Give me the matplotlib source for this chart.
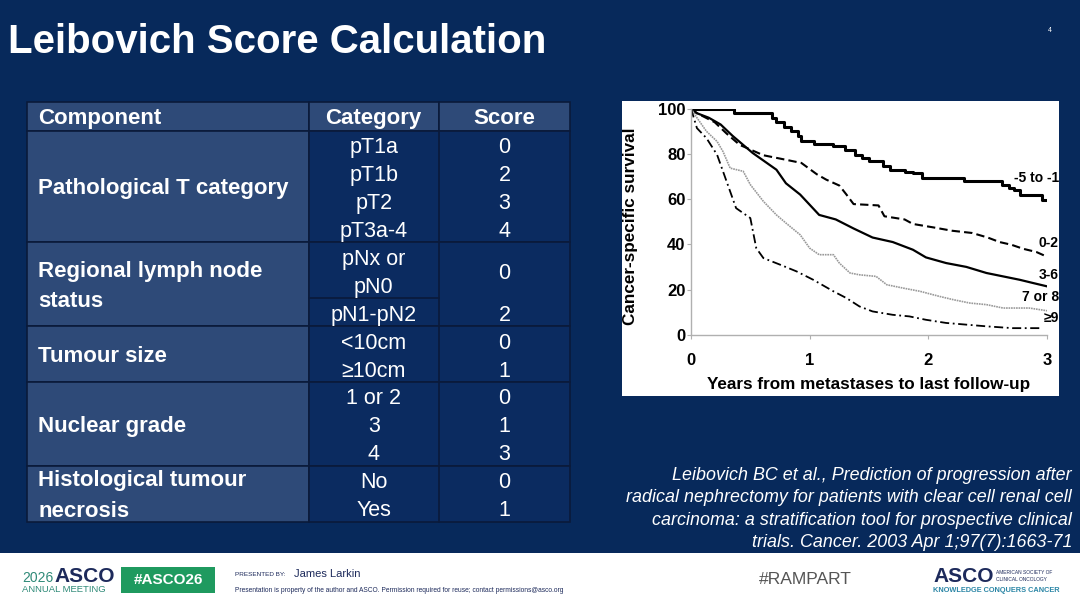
import matplotlib
matplotlib.use("Agg")
import matplotlib.pyplot as plt
from matplotlib.patches import Rectangle

plt.rcParams["font.family"] = ["Liberation Sans", "DejaVu Sans"]

# -----------------------------
# DATA
# -----------------------------
title = "Leibovich Score Calculation"
header = ["Component", "Category", "Score"]
components = ["Pathological T category", "Regional lymph node\nstatus",
              "Tumour size", "Nuclear grade", "Histological tumour\nnecrosis"]
categories = [["pT1a", "pT1b", "pT2", "pT3a-4"],
              ["pNx or\npN0", "pN1-pN2"],
              ["<10cm", "\u226510cm"],
              ["1 or 2", "3", "4"],
              ["No", "Yes"]]
scores = [[0, 2, 3, 4], [0, 2], [0, 1], [0, 1, 3], [0, 1]]

# Kaplan-Meier curves (years, % survival)
t_m5 = [0, 0.36, 0.68, 0.72, 0.78, 0.84, 0.90, 0.93, 1.04, 1.20, 1.30, 1.38, 1.44,
        1.50, 1.62, 1.68, 1.80, 1.87, 1.95, 2.30, 2.62, 2.68, 2.72, 2.77, 2.96, 3.0]
s_m5 = [100, 98, 96, 94, 92, 90, 88, 85.5, 84.4, 83.3, 81.9, 79.6, 78, 76.7, 74.5,
        73, 72, 71.5, 69.3, 67.8, 66.3, 65, 64, 62, 59.5, 59.5]
t_02 = [0, 0.05, 0.2, 0.3, 0.41, 0.61, 0.80, 0.93, 1.06, 1.14, 1.25, 1.31, 1.37,
        1.58, 1.63, 1.80, 1.87, 2.04, 2.20, 2.37, 2.50, 2.60, 2.70, 2.80, 2.91, 3.0]
s_02 = [100, 98, 94, 89, 84, 79.4, 77.4, 76, 71, 68.6, 66, 62, 57.8, 57.2, 52.4,
        51, 49, 47.5, 46, 45, 43, 41, 39.8, 38, 36.6, 34.5]
t_36 = [0, 0.05, 0.15, 0.25, 0.35, 0.52, 0.72, 0.80, 0.92, 1.0, 1.08, 1.22, 1.37,
        1.53, 1.70, 1.87, 1.98, 2.15, 2.32, 2.49, 2.63, 2.77, 2.88, 3.0]
s_36 = [100, 98, 96, 93, 88, 80.4, 73, 67, 62, 57.5, 53, 51, 47, 43, 41, 37.6,
        34.2, 31.7, 30, 27.3, 25.8, 24.3, 22.9, 21.4]
t_78 = [0, 0.05, 0.13, 0.22, 0.27, 0.33, 0.44, 0.50, 0.61, 0.72, 0.80, 0.92, 1.0,
        1.08, 1.20, 1.25, 1.34, 1.42, 1.56, 1.65, 1.79, 1.93, 2.09, 2.21, 2.35,
        2.49, 2.63, 2.85, 3.0]
s_78 = [100, 96, 90, 85.5, 81, 73.7, 72.3, 66.4, 59, 53, 49.4, 44.2, 38.3, 35.4,
        35.4, 31.7, 27.3, 26.5, 25.8, 22.1, 20.6, 19.2, 17, 15.5, 14, 13.3, 11.8,
        11.8, 10.6]
t_9 = [0, 0.05, 0.13, 0.22, 0.30, 0.38, 0.50, 0.55, 0.61, 0.75, 0.89, 1.03, 1.20,
       1.31, 1.42, 1.53, 1.70, 1.84, 1.98, 2.15, 2.49, 2.71, 2.94]
s_9 = [100, 91.4, 87, 79.6, 67.8, 56, 51.6, 38.3, 33.9, 31, 28, 24.3, 19.2, 16.2,
       12.5, 10.3, 8.8, 8.1, 6.6, 5.2, 3.7, 2.9, 2.9]
curve_labels = ["-5 to -1", "0-2", "3-6", "7 or 8", "\u22659"]
label_y = [69.3, 40.6, 26.4, 16.7, 7.4]

citation = ("Leibovich BC et al., Prediction of progression after\n"
            "radical nephrectomy for patients with clear cell renal cell\n"
            "carcinoma: a stratification tool for prospective clinical\n"
            "trials. Cancer. 2003 Apr 1;97(7):1663-71")

# -----------------------------
# COLOURS
# -----------------------------
BG = "#07295b"
LIGHT = "#2e4a78"
DARK = "#0b2b60"
GRID = "#0a1a3a"
NAVY = "#1d2a5b"

fig = plt.figure(figsize=(10.8, 6.08), dpi=100)
fig.patch.set_facecolor(BG)

# full-figure axes in pixel coordinates
bg = fig.add_axes([0, 0, 1, 1])
bg.set_xlim(0, 1080)
bg.set_ylim(608, 0)
bg.axis("off")

bg.text(8, 42, title, color="white", fontsize=29, fontweight="bold", va="center")
bg.text(1048, 30, "4", color="white", fontsize=5, va="center")

# -----------------------------
# TABLE
# -----------------------------
col_x = [27, 308.5, 439, 570]
head_top, head_bot = 102, 130.5
table_bot = 521.7
n_units = sum(c.count("\n") + 1 for cats in categories for c in cats)
unit = (table_bot - head_bot) / n_units

# header
for i, h in enumerate(header):
    bg.add_patch(Rectangle((col_x[i], head_top), col_x[i + 1] - col_x[i],
                           head_bot - head_top, facecolor=LIGHT, edgecolor=GRID, lw=1.2))
    hx = col_x[0] + 11 if i == 0 else (col_x[i] + col_x[i + 1]) / 2
    bg.text(hx, (head_top + head_bot) / 2 + 2.5, h, color="white", fontsize=16,
            fontweight="bold", va="center", ha="left" if i == 0 else "center")

y = head_bot
for comp, cats, scs in zip(components, categories, scores):
    nb = sum(c.count("\n") + 1 for c in cats)
    y0, y1 = y, y + nb * unit
    bg.add_patch(Rectangle((col_x[0], y0), col_x[1] - col_x[0], y1 - y0,
                           facecolor=LIGHT, edgecolor=GRID, lw=1.2))
    bg.add_patch(Rectangle((col_x[1], y0), col_x[3] - col_x[1], y1 - y0,
                           facecolor=DARK, edgecolor=GRID, lw=1.2))
    bg.plot([col_x[2], col_x[2]], [y0, y1], color=GRID, lw=1.2)
    bg.text(col_x[0] + 11, (y0 + y1) / 2 + 2.5, comp, color="white", fontsize=16,
            fontweight="bold", va="center", ha="left", linespacing=1.6)
    yy = y0
    for k, (c, s) in enumerate(zip(cats, scs)):
        lines = c.split("\n")
        for j, ln in enumerate(lines):
            bg.text((col_x[1] + col_x[2]) / 2, yy + (j + 0.5) * unit + 3, ln,
                    color="white", fontsize=15.5, va="center", ha="center")
        bg.text((col_x[2] + col_x[3]) / 2, yy + len(lines) * unit / 2 + 3, str(s),
                color="white", fontsize=15.5, va="center", ha="center")
        yy += len(lines) * unit
        if len(lines) > 1 and k < len(cats) - 1:
            bg.plot([col_x[1], col_x[2]], [yy, yy], color=GRID, lw=1.2)
    y = y1

# -----------------------------
# SURVIVAL CHART
# -----------------------------
bg.add_patch(Rectangle((622, 101), 437, 295, facecolor="white", edgecolor="none"))

ax = fig.add_axes([691 / 1080, 1 - 334.7 / 608, 356 / 1080, 226 / 608])
ax.set_facecolor("none")
ax.step(t_m5, s_m5, where="post", color="black", lw=2.2)
ax.plot(t_02, s_02, color="black", lw=1.5, linestyle=(0, (4, 2)))
ax.plot(t_36, s_36, color="black", lw=1.6)
ax.plot(t_78, s_78, color="#999999", lw=1.2, linestyle=(0, (1, 0.5)))
ax.plot(t_9, s_9, color="black", lw=1.3, linestyle=(0, (5, 2, 1, 2)))

for lab, ly in zip(curve_labels, label_y):
    ax.text(3.1, ly, lab, fontsize=10, fontweight="bold", ha="right", va="center",
            clip_on=False)

ax.set_xlim(0, 3)
ax.set_ylim(0, 100)
ax.set_xticks([0, 1, 2, 3])
ax.set_yticks([0, 20, 40, 60, 80, 100])
for sp in ["top", "right"]:
    ax.spines[sp].set_visible(False)
for sp in ["left", "bottom"]:
    ax.spines[sp].set_color("#b0b0b0")
    ax.spines[sp].set_linewidth(1.0)
ax.tick_params(axis="both", colors="#b0b0b0", length=3, labelcolor="black")
ax.tick_params(axis="x", pad=10)
ax.tick_params(axis="y", pad=1)
for lbl in ax.get_xticklabels() + ax.get_yticklabels():
    lbl.set_fontweight("bold")
    lbl.set_fontsize(12)
ax.text(0.5, -(385 - 334.7) / 226, "Years from metastases to last follow-up",
        transform=ax.transAxes, fontsize=12.3, fontweight="bold", ha="center",
        va="center")
ax.text(-(691 - 631) / 356, (334.7 - 226) / 226, "Cancer-specific survival",
        transform=ax.transAxes, fontsize=12.3, fontweight="bold", ha="center",
        va="center", rotation=90)

# citation
bg.text(1072, 509, citation, color="white", fontsize=12.9, style="italic",
        ha="right", va="center", linespacing=1.42)

# -----------------------------
# FOOTER
# -----------------------------
bg.add_patch(Rectangle((0, 553), 1080, 55, facecolor="white", edgecolor="none"))
bg.text(22, 578, "2026", color="#2f8a78", fontsize=10, va="center", ha="left")
bg.text(54, 577, "ASCO", color=NAVY, fontsize=15, fontweight="bold", va="center",
        ha="left")
bg.text(22, 590, "ANNUAL MEETING", color="#2f8a78", fontsize=6.8, va="center",
        ha="left")
bg.add_patch(Rectangle((121, 567), 94, 26, facecolor="#1f9a5f", edgecolor="none"))
bg.text(168, 580, "#ASCO26", color="white", fontsize=11, fontweight="bold",
        va="center", ha="center")
bg.text(235, 575, "PRESENTED BY:", color=NAVY, fontsize=4.6, va="center", ha="left")
bg.text(294, 574, "James Larkin", color=NAVY, fontsize=8, va="center", ha="left")
bg.text(235, 591, "Presentation is property of the author and ASCO. Permission "
        "required for reuse; contact permissions@asco.org", color=NAVY,
        fontsize=4.8, va="center", ha="left")
bg.text(805, 580, "#RAMPART", color="#555555", fontsize=12.6, va="center",
        ha="center")
bg.text(933, 577, "ASCO", color=NAVY, fontsize=15, fontweight="bold", va="center",
        ha="left")
bg.text(996, 576, "AMERICAN SOCIETY OF\nCLINICAL ONCOLOGY", color=NAVY,
        fontsize=3.5, va="center", ha="left", linespacing=1.3)
bg.text(933, 591, "KNOWLEDGE CONQUERS CANCER", color="#2b86a6", fontsize=5.3,
        fontweight="bold", va="center", ha="left")

fig.savefig("out.png", dpi=100, facecolor=BG)
